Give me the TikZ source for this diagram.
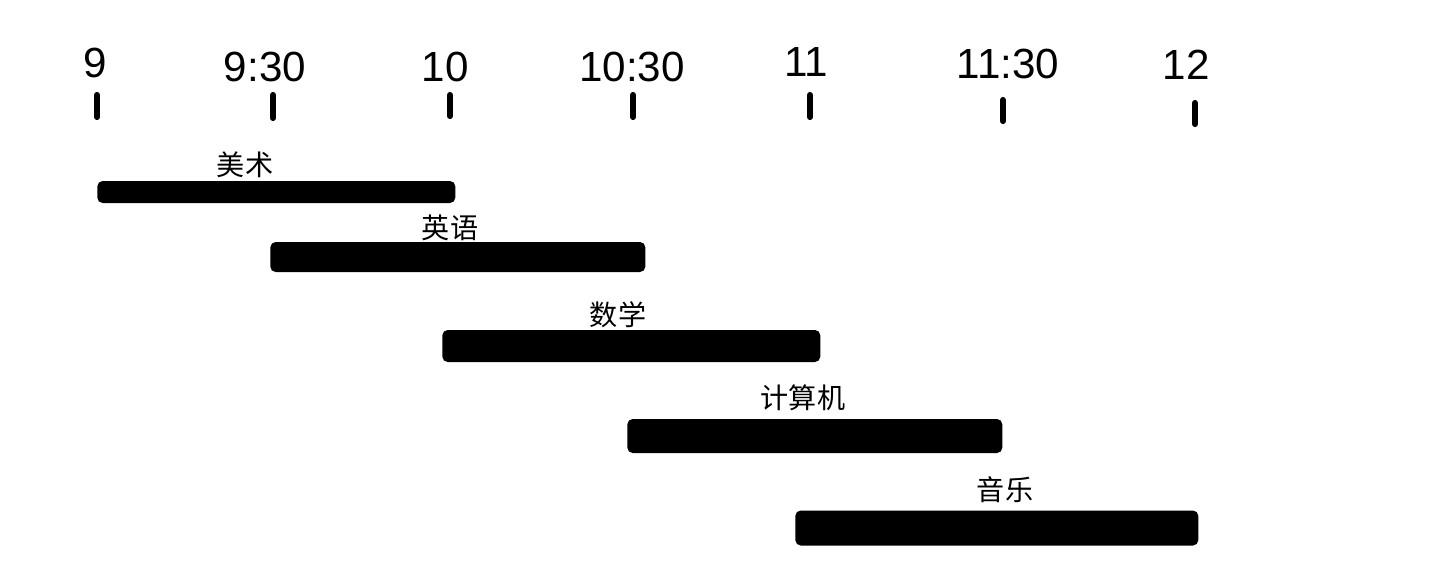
\documentclass[tikz,border=0pt]{standalone}
\usepackage{fontspec}
\setmainfont{Liberation Sans}
\newfontfamily\cjk{Noto Sans CJK SC}
\usetikzlibrary{shapes, arrows, positioning}

\begin{document}
\begin{tikzpicture}[x=0.02cm, y=-0.02cm]

\tikzstyle{hour} = [font=\fontsize{24}{24}\selectfont, inner sep=0pt]
\tikzstyle{hourtick} = [line width=3.5pt, line cap=round]
\tikzstyle{bar} = [rectangle, fill=black, rounded corners=3pt, inner sep=0pt, anchor=west]
\tikzstyle{subject} = [font=\cjk\fontsize{16}{16}\selectfont, inner sep=0pt, anchor=south]

\useasboundingbox (0,0) rectangle (1429,566);

% time axis
\node (h9) [hour] at (95,63) {9};
\node (h930) [hour] at (265,67) {9:30};
\node (h10) [hour] at (445,67) {10};
\node (h1030) [hour] at (632,67) {10:30};
\node (h11) [hour] at (806,62) {11};
\node (h1130) [hour] at (1008,64) {11:30};
\node (h12) [hour] at (1186,65) {12};

\draw [hourtick] (97,95) -- (97,117);
\draw [hourtick] (273,95) -- (273,118);
\draw [hourtick] (450,95) -- (450,116);
\draw [hourtick] (633,95) -- (633,117);
\draw [hourtick] (810,95) -- (810,117);
\draw [hourtick] (1003,100) -- (1003,121);
\draw [hourtick] (1195,103) -- (1195,124);

% classes
\node (art) [bar, minimum width=7.16cm, minimum height=0.44cm] at (97,192) {};
\node (english) [bar, minimum width=7.5cm, minimum height=0.6cm] at (270,257) {};
\node (math) [bar, minimum width=7.56cm, minimum height=0.64cm] at (442,346) {};
\node (computer) [bar, minimum width=7.5cm, minimum height=0.68cm] at (627,436) {};
\node (music) [bar, minimum width=8.06cm, minimum height=0.7cm] at (795,528) {};

\node (artname) [subject] at (245,178) {美术};
\node (englishname) [subject] at (450,241) {英语};
\node (mathname) [subject] at (618,328) {数学};
\node (computername) [subject] at (803,411) {计算机};
\node (musicname) [subject] at (1005,503) {音乐};
\end{tikzpicture}
\end{document}
